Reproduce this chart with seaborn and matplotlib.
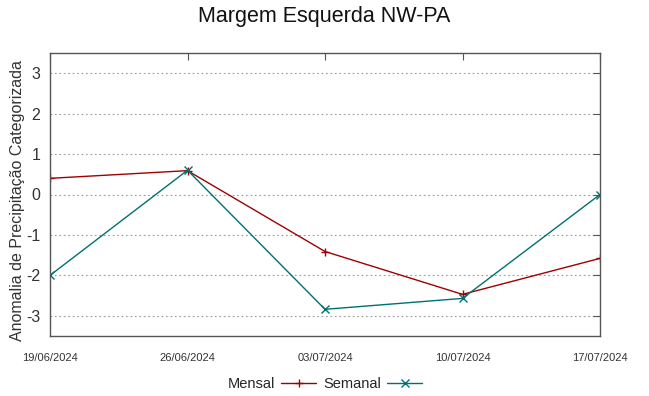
import pandas as pd
import matplotlib
matplotlib.use('Agg')
import matplotlib.pyplot as plt
import seaborn as sns

datas = ['19/06/2024', '26/06/2024', '03/07/2024', '10/07/2024', '17/07/2024']
mensal = [0.40, 0.59, -1.41, -2.47, -1.58]
semanal = [-2.00, 0.60, -2.84, -2.57, 0.00]

sns.set_style('white')
plt.rcParams['font.family'] = ['Liberation Sans', 'DejaVu Sans']

df = pd.DataFrame({
    'data': pd.to_datetime(datas * 2, format='%d/%m/%Y'),
    'valor': mensal + semanal,
    'serie': ['Mensal'] * len(datas) + ['Semanal'] * len(datas),
})

fig = plt.figure(figsize=(6.49, 3.96), dpi=100)
ax = fig.add_axes([50 / 649, 1 - 336 / 396, 550 / 649, 283 / 396])

cores = {'Mensal': '#a00000', 'Semanal': '#007070'}
sns.lineplot(data=df, x='data', y='valor', hue='serie', style='serie',
             palette=cores, markers={'Mensal': '+', 'Semanal': 'x'},
             dashes=False, linewidth=1, markersize=6, markeredgewidth=1,
             ax=ax)
# seaborn paints marker edges white, which hides + and x
for ln in ax.lines:
    ln.set_markeredgecolor(ln.get_color())

xt = pd.to_datetime(datas, format='%d/%m/%Y')
ax.set_xlim(xt[0], xt[-1])
ax.set_xticks(xt)
ax.set_xticklabels(datas, fontsize=8, color='#333333')
ax.set_ylim(-3.5, 3.5)
ax.set_yticks([-3, -2, -1, 0, 1, 2, 3])
ax.set_yticklabels(['-3', '-2', '-1', '0', '1', '2', '3'], fontsize=11.5, color='#333333')
ax.tick_params(axis='both', direction='in', length=5, color='#555555',
               top=True, right=True, pad=7)
ax.tick_params(axis='x', pad=12)
ax.yaxis.grid(True, linestyle=(0, (1.5, 2.5)), color='#999999', linewidth=0.8)
for s in ax.spines.values():
    s.set_color('#555555')
    s.set_linewidth(1)

ax.set_xlabel('')
ax.set_ylabel('Anomalia de Precipitação Categorizada', fontsize=11.5, color='#333333')
ax.yaxis.set_label_coords(-0.046, 0.477)
fig.suptitle('Margem Esquerda NW-PA', fontsize=15.5, y=0.985, color='#111111')

h, l = ax.get_legend_handles_labels()
for hd in h:
    hd.set_markeredgecolor(hd.get_color())
ax.legend(h, l, loc='upper center', bbox_to_anchor=(0.5, -0.1), ncol=2,
          frameon=False, markerfirst=False, fontsize=10.5, handlelength=2.4,
          columnspacing=0.5, handletextpad=0.4)

plt.savefig('out.png', dpi=100)
